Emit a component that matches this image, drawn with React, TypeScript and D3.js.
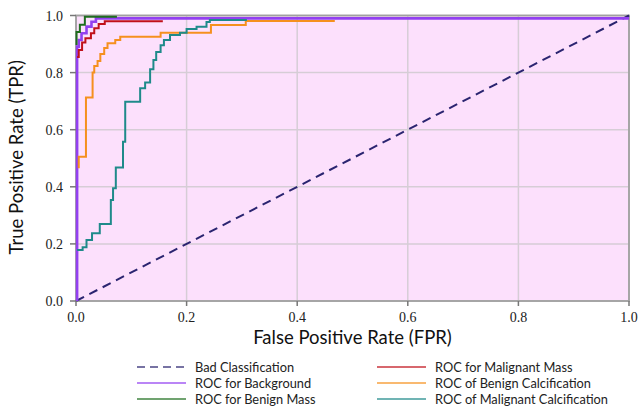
import React from "react";
import * as d3 from "d3";

const W = 639;
const H = 408;

const xTicks = [0, 0.2, 0.4, 0.6, 0.8, 1.0];
const yTicks = [0, 0.2, 0.4, 0.6, 0.8, 1.0];

// Each curve: [fpr, tpr] points, drawn as a step-after staircase
const bgPoints: [number, number][] = [
  [0.002, 0], [0.002, 0.891], [0.005, 0.914], [0.010, 0.938], [0.019, 0.961],
  [0.028, 0.978], [0.036, 0.99], [1.0, 0.99],
];
const benignMassPoints: [number, number][] = [
  [0.001, 0.897], [0.001, 0.942], [0.007, 0.968], [0.016, 0.996], [0.074, 0.996],
];
const malignantMassPoints: [number, number][] = [
  [0.002, 0.855], [0.005, 0.879], [0.011, 0.905], [0.017, 0.920], [0.027, 0.938],
  [0.033, 0.955], [0.041, 0.970], [0.052, 0.980], [0.157, 0.980],
];
const benignCalcPoints: [number, number][] = [
  [0.005, 0.465], [0.005, 0.505], [0.018, 0.713], [0.030, 0.800], [0.033, 0.823],
  [0.039, 0.841], [0.044, 0.865], [0.051, 0.886], [0.057, 0.903], [0.071, 0.914],
  [0.080, 0.926], [0.153, 0.940], [0.244, 0.967], [0.307, 0.981], [0.468, 0.981],
];
const malignantCalcPoints: [number, number][] = [
  [0.002, 0.179], [0.012, 0.188], [0.019, 0.214], [0.029, 0.237], [0.043, 0.270],
  [0.063, 0.354], [0.067, 0.395], [0.072, 0.468], [0.085, 0.558], [0.089, 0.698],
  [0.116, 0.745], [0.125, 0.765], [0.134, 0.812], [0.140, 0.844], [0.145, 0.872],
  [0.153, 0.896], [0.159, 0.914], [0.170, 0.932], [0.188, 0.940], [0.200, 0.953],
  [0.218, 0.961], [0.236, 0.977], [0.242, 0.984], [0.309, 0.984],
];
const diagonalPoints: [number, number][] = [[0, 0], [1, 1]];

const seriesNames = [
  "Bad Classification",
  "ROC for Background",
  "ROC for Benign Mass",
  "ROC for Malignant Mass",
  "ROC of Benign Calcification",
  "ROC of Malignant Calcification",
];
const seriesColors = ["#2a2470", "#9240f0", "#1e6e1e", "#c0101a", "#f5901e", "#1e8a8a"];
const seriesData = [diagonalPoints, bgPoints, benignMassPoints, malignantMassPoints, benignCalcPoints, malignantCalcPoints];

export default function App() {
  const left = 76, right = 629, top = 15.5, bottom = 301;
  const x = d3.scaleLinear().domain([0, 1]).range([left, right]);
  const y = d3.scaleLinear().domain([0, 1]).range([bottom, top]);
  const stepLine = d3.line<[number, number]>().x(d => x(d[0])).y(d => y(d[1])).curve(d3.curveStepAfter);
  const straight = d3.line<[number, number]>().x(d => x(d[0])).y(d => y(d[1]));
  const sans = "Lato, 'Open Sans', sans-serif";
  const serif = "'Liberation Serif', 'DejaVu Serif', serif";

  const legendX = [137, 377];
  const legendY = [367, 383, 399];

  return (
    <svg width={W} height={H} style={{ position: "absolute", left: 0, top: 0, background: "#fff" }}>
      <rect x={left} y={top} width={right - left} height={bottom - top} fill="#fce0fc" />
      {xTicks.map(t => (
        <line key={"gx" + t} x1={x(t)} x2={x(t)} y1={top} y2={bottom} stroke="#d6cdd6" strokeWidth={1.5} />
      ))}
      {yTicks.map(t => (
        <line key={"gy" + t} x1={left} x2={right} y1={y(t)} y2={y(t)} stroke="#d6cdd6" strokeWidth={1.5} />
      ))}
      <rect x={left} y={top} width={right - left} height={bottom - top} fill="none" stroke="#a0a0a0" strokeWidth={1.8} />
      {seriesData.map((d, i) => (
        <path
          key={"s" + i}
          d={(i === 0 ? straight(d) : stepLine(d)) || ""}
          fill="none"
          stroke={seriesColors[i]}
          strokeWidth={i === 1 ? 2.6 : 2}
          strokeDasharray={i === 0 ? "9,6" : undefined}
        />
      ))}
      {xTicks.map(t => (
        <g key={"tx" + t}>
          <line x1={x(t)} x2={x(t)} y1={bottom} y2={bottom + 5} stroke="#777" strokeWidth={1.5} />
          <text x={x(t)} y={bottom + 21} textAnchor="middle" fontFamily={serif} fontSize={14} fill="#222">
            {t.toFixed(1)}
          </text>
        </g>
      ))}
      {yTicks.map(t => (
        <g key={"ty" + t}>
          <line x1={left - 6} x2={left} y1={y(t)} y2={y(t)} stroke="#777" strokeWidth={1.5} />
          <text x={left - 13} y={y(t) + 5} textAnchor="end" fontFamily={serif} fontSize={14} fill="#222">
            {t.toFixed(1)}
          </text>
        </g>
      ))}
      <text x={(left + right) / 2} y={344} textAnchor="middle" fontFamily={sans} fontSize={18.5} fill="#111">
        False Positive Rate (FPR)
      </text>
      <text
        transform={`translate(23, ${(top + bottom) / 2 - 1}) rotate(-90)`}
        textAnchor="middle"
        fontFamily={sans}
        fontSize={18.5}
        fill="#111"
      >
        True Positive Rate (TPR)
      </text>
      {seriesNames.map((name, i) => {
        const col = Math.floor(i / 3);
        const row = i % 3;
        const lx = legendX[col];
        const ly = legendY[row];
        return (
          <g key={"l" + i}>
            <line
              x1={lx}
              x2={lx + 49}
              y1={ly}
              y2={ly}
              stroke={seriesColors[i]}
              strokeOpacity={0.85}
              strokeWidth={1.6}
              strokeDasharray={i === 0 ? "8,5" : undefined}
            />
            <text x={lx + 58} y={ly + 4.5} fontFamily={sans} fontSize={12.8} fill="#222">
              {name}
            </text>
          </g>
        );
      })}
    </svg>
  );
}
